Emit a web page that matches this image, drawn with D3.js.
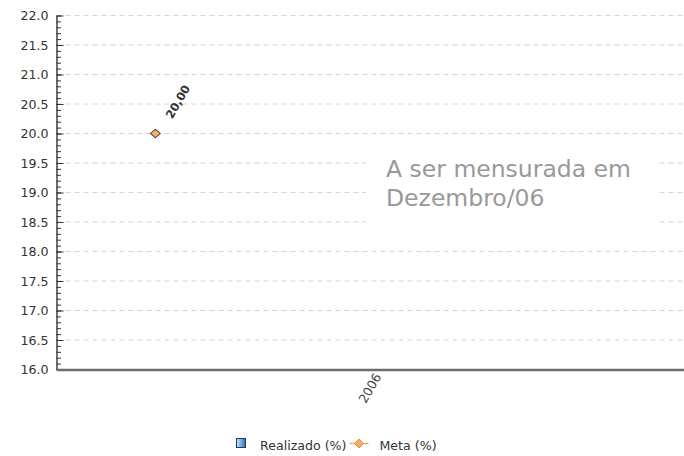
<!DOCTYPE html>
<html>
<head>
<meta charset="utf-8">
<script src="https://cdn.jsdelivr.net/npm/d3@7"></script>
<style>
  body { margin: 0; background: #fff; }
  text { font-family: 'DejaVu Sans', Verdana, sans-serif; }
</style>
</head>
<body>
<svg id="chart" width="684" height="456"></svg>
<script>
// data
const years = ['2006'];
const seriesNames = ['Realizado (%)', 'Meta (%)'];
const realizado = [null];   // not measured yet
const meta = [20.0];
const yDomain = [16, 22];
const note = ['A ser mensurada em', 'Dezembro/06'];

const w = 684;
const h = 456;
const margin = { top: 15.5, right: 0, bottom: 86.5, left: 56.5 };
const width = w - margin.left - margin.right;
const height = h - margin.top - margin.bottom;

const svg = d3.select('#chart');
svg.append('rect').attr('width', w).attr('height', h).attr('fill', '#fff');

const defs = svg.append('defs');
const grad = defs.append('linearGradient').attr('id', 'blueBox');
grad.append('stop').attr('offset', '0%').attr('stop-color', '#d6e6f7');
grad.append('stop').attr('offset', '100%').attr('stop-color', '#2f6cb6');

const plot = svg.append('g')
  .attr('transform', `translate(${margin.left},${margin.top})`);

const x = d3.scaleBand().domain(years).range([0, width]);
// position of each series inside the year band (meta sits on the left)
const slot = d3.scalePoint()
  .domain(['Meta (%)', 'Realizado (%)'])
  .range([0, x.bandwidth()])
  .padding(0.23);
const y = d3.scaleLinear().domain(yDomain).range([height, 0]);

// dashed grid
plot.append('g')
  .selectAll('line')
  .data(y.ticks(12).filter(d => d > yDomain[0]))
  .join('line')
    .attr('x1', 0)
    .attr('x2', width)
    .attr('y1', d => y(d))
    .attr('y2', d => y(d))
    .attr('stroke', '#d4d4d4')
    .attr('stroke-dasharray', '5,4');

// minor ticks every 0.1
plot.append('g')
  .call(d3.axisLeft(y).ticks(60).tickSize(-4.5).tickFormat(''))
  .call(g => g.select('.domain').remove())
  .selectAll('line').attr('stroke', '#333');

// major ticks + labels
plot.append('g')
  .call(d3.axisLeft(y).ticks(12).tickFormat(d3.format('.1f'))
    .tickSize(-7).tickSizeOuter(0).tickPadding(8))
  .call(g => g.select('.domain').attr('stroke', '#333').attr('stroke-width', 1.4))
  .call(g => g.selectAll('line').attr('stroke', '#333'))
  .call(g => g.selectAll('text')
    .attr('font-size', 12.6)
    .attr('fill', '#333')
    .style('font-family', "'DejaVu Sans', Verdana, sans-serif"));

// category axis
plot.append('g')
  .attr('transform', `translate(0,${height})`)
  .call(d3.axisBottom(x).tickSize(0).tickSizeOuter(0))
  .call(g => g.select('.domain').attr('stroke', '#6e6e6e').attr('stroke-width', 2.6))
  .call(g => g.selectAll('text')
    .attr('x', 0)
    .attr('y', 0)
    .attr('dy', 0)
    .attr('transform', 'translate(11.5,7) rotate(-60)')
    .style('text-anchor', 'end')
    .style('font-family', "'DejaVu Sans', Verdana, sans-serif")
    .attr('font-size', 12.5)
    .attr('fill', '#444'));

// meta points
const metaPts = years.map((yr, i) => ({ year: yr, value: meta[i] })).filter(d => d.value != null);
const mx = d => x(d.year) + slot('Meta (%)');

plot.append('g')
  .selectAll('path')
  .data(metaPts)
  .join('path')
    .attr('transform', d => `translate(${mx(d)},${y(d.value)}) scale(1,0.85)`)
    .attr('d', d3.symbol(d3.symbolDiamond2, 64))
    .attr('fill', '#f5b06a')
    .attr('stroke', '#3a3a3a')
    .attr('stroke-width', 1.1)
    .attr('stroke-linejoin', 'round');

plot.append('g')
  .selectAll('text')
  .data(metaPts)
  .join('text')
    .attr('transform', d => `translate(${mx(d) + 17},${y(d.value) - 14}) rotate(-60)`)
    .attr('font-size', 11.5)
    .attr('font-weight', 'bold')
    .attr('fill', '#333')
    .text(d => d3.format('.2f')(d.value).replace('.', ','));

// note box over the plot
const noteG = svg.append('g');
noteG.append('rect')
  .attr('x', 366).attr('y', 142)
  .attr('width', 293).attr('height', 96)
  .attr('fill', '#fff');
noteG.selectAll('text')
  .data(note)
  .join('text')
    .attr('x', 386)
    .attr('y', (d, i) => 176.5 + i * 29)
    .attr('font-size', 23.5)
    .attr('fill', '#999')
    .text(d => d);

// legend
const legend = svg.append('g').attr('transform', 'translate(236,450)');
legend.append('rect')
  .attr('x', 0.5).attr('y', -11.5)
  .attr('width', 9).attr('height', 9)
  .attr('fill', 'url(#blueBox)')
  .attr('stroke', '#1d3a66');
const t1 = legend.append('text')
  .attr('x', 24)
  .attr('font-size', 12.6)
  .attr('fill', '#333')
  .text(seriesNames[0]);
const lx = 24 + t1.node().getComputedTextLength() + 3;
legend.append('line')
  .attr('x1', lx).attr('x2', lx + 19)
  .attr('y1', -6.5).attr('y2', -6.5)
  .attr('stroke', '#f2a24f')
  .attr('stroke-width', 1.2);
legend.append('path')
  .attr('transform', `translate(${lx + 9.5},-6.5)`)
  .attr('d', d3.symbol(d3.symbolDiamond2, 50))
  .attr('fill', '#f5b06a')
  .attr('stroke', '#e0893a');
legend.append('text')
  .attr('x', lx + 30)
  .attr('font-size', 12.6)
  .attr('fill', '#333')
  .text(seriesNames[1]);
</script>
</body>
</html>
